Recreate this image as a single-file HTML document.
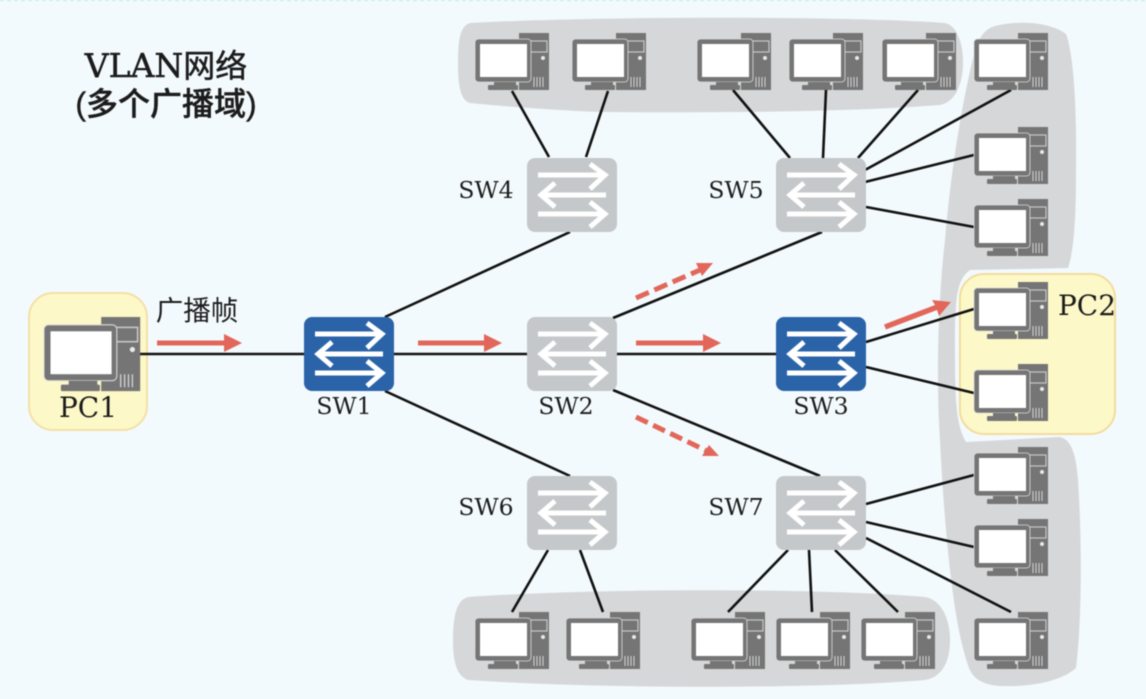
<!DOCTYPE html>
<html><head><meta charset="utf-8">
<style>
html,body{margin:0;padding:0;background:#f3fafd;width:1146px;height:699px;overflow:hidden}
svg{display:block;filter:blur(0.5px)}
.s{font-family:"DejaVu Serif","Liberation Serif",serif;fill:#1c1c1c}
.c{font-family:"Liberation Sans","Noto Sans CJK SC",sans-serif;fill:#1c1c1c}
</style></head><body>
<svg width="1146" height="699" viewBox="0 0 1146 699" xmlns="http://www.w3.org/2000/svg">
<defs>
<g id="pc">
<path d="M44 0H74V57H44Z" fill="#757575"/>
<rect x="45" y="8" width="27" height="11" fill="none" stroke="#c8c8c8" stroke-width="1.2"/>
<circle cx="68" cy="25" r="2" fill="#e8e8e8"/>
<path d="M59 44v10M62 44v10M65 44v10M68 44v10" stroke="#d5d5d5" stroke-width="1"/>
<rect x="0" y="6" width="56" height="43" rx="3.5" fill="#757575" stroke="#dcdcdc" stroke-width="0.8"/>
<rect x="5" y="11" width="47" height="33" fill="#fff"/>
<rect x="19" y="49" width="22" height="4" fill="#757575"/>
<rect x="13" y="52" width="30" height="5" rx="1" fill="#757575"/>
</g>
<g id="arr" fill="none" stroke="#fff" stroke-width="5">
<path d="M11 17H77M63 6L78 17L63 31"/>
<path d="M79 37H15M28 25L14 37L28 49"/>
<path d="M11 56H77M63 44L78 56L63 69"/>
</g>
<g id="swg"><rect width="90" height="74" rx="8" fill="#c5c8ca"/><use href="#arr"/></g>
<g id="swb"><rect width="90" height="74" rx="8" fill="#2b63a8"/><use href="#arr"/></g>
</defs>
<rect width="1146" height="699" fill="#f3fafd"/>
<path d="M0 0.5H1146" stroke="#bfeaf0" stroke-width="1" stroke-dasharray="4 3"/>

<!-- gray groups -->
<path d="M470 23C600 16 850 16 945 23C958 26 963 45 963 62C963 85 955 102 940 105C850 112 720 113 600 112C550 110 500 106 470 103C460 100 458 85 458 62C458 40 460 26 470 23Z" fill="#d6d7d8"/>
<path d="M468 597C600 588 820 588 925 597C942 600 950 620 950 640C950 662 942 677 925 680C820 689 600 689 468 680C456 676 453 660 453 640C453 618 456 600 468 597Z" fill="#d6d7d8"/>
<path d="M995 26C1020 20 1050 22 1066 34C1072 50 1077 90 1076 170C1076 220 1074 250 1068 268L970 270C956 280 955 300 955 350C955 400 956 425 966 442L1060 437C1072 440 1076 455 1078 480C1082 540 1082 620 1076 668C1060 682 1030 687 1000 686C985 685 972 680 968 665C952 620 944 520 940 440C936 380 938 300 945 240C950 180 960 110 975 50C980 36 985 29 995 26Z" fill="#d6d7d8"/>

<!-- yellow boxes -->
<rect x="29" y="293" width="118" height="137" rx="24" fill="#fdf8c8" stroke="#f3e0a6" stroke-width="2"/>
<rect x="960" y="274" width="155" height="160" rx="24" fill="#fdf8c8" stroke="#f3dc9d" stroke-width="2"/>

<!-- connectors -->
<g stroke="#111" stroke-width="2.6" fill="none">
<path d="M140 354H304M394 354H527M617 354H776"/>
<path d="M385 317L570 232M385 391L570 476"/>
<path d="M613 318L822 232M613 390L820 476"/>
<path d="M512 91L549 157M608 91L586 157"/>
<path d="M733 90L790 158M826 90L823 158M918 90L858 158"/>
<path d="M865 170L1011 90M865 182L974 155M866 207L974 227"/>
<path d="M866 342L974 309M866 367L974 393"/>
<path d="M548 550L512 612M580 550L603 612"/>
<path d="M788 550L728 612M809 550L812 612M835 550L898 612"/>
<path d="M866 504L974 475M866 522L974 547M866 538L1011 612"/>
</g>

<!-- PCs -->
<use href="#pc" x="475" y="33"/><use href="#pc" x="572" y="33"/><use href="#pc" x="697" y="33"/>
<use href="#pc" x="789" y="33"/><use href="#pc" x="882" y="33"/><use href="#pc" x="974" y="33"/>
<use href="#pc" x="974" y="127"/><use href="#pc" x="974" y="199"/><use href="#pc" x="974" y="282"/>
<use href="#pc" x="974" y="364"/><use href="#pc" x="974" y="447"/><use href="#pc" x="974" y="519"/>
<use href="#pc" x="974" y="612"/>
<use href="#pc" x="475" y="612"/><use href="#pc" x="566" y="612"/><use href="#pc" x="691" y="612"/>
<use href="#pc" x="776" y="612"/><use href="#pc" x="861" y="612"/>
<use href="#pc" transform="translate(44 317) scale(1.3)"/>

<!-- switches -->
<use href="#swb" x="304" y="317"/><use href="#swg" x="527" y="317"/><use href="#swb" x="776" y="317"/>
<use href="#swg" x="527" y="158"/><use href="#swg" x="776" y="158"/>
<use href="#swg" x="527" y="476"/><use href="#swg" x="776" y="476"/>

<!-- red arrows -->
<g fill="#e2675a">
<path d="M157 340.500H224V334L242 343L224 352V345.500H157Z"/>
<path d="M418 340.500H484V334L502 343L484 352V345.500H418Z"/>
<path d="M636 340.500H703V334L721 343L703 352V345.500H636Z"/>
<path d="M884 324.500L935 305L932 300L951 302L939 316L937 310L886 329.500Z"/>
<path d="M696 263L713 263L702 276Z"/>
<path d="M709 445L719 456L702 456Z"/>
</g>
<g stroke="#e2675a" stroke-width="5" fill="none">
<path d="M636 298L700 270" stroke-dasharray="14 6"/>
<path d="M636 417L707 451" stroke-dasharray="13 6"/>
</g>

<!-- labels -->
<g class="s" font-size="23.500" text-anchor="middle">
<text x="344" y="414">SW1</text>
<text x="566" y="414">SW2</text>
<text x="821" y="414">SW3</text>
<text x="486" y="198">SW4</text>
<text x="736" y="198">SW5</text>
<text x="486" y="515">SW6</text>
<text x="736" y="515">SW7</text>
<text x="88" y="417" font-size="28">PC1</text>
<text x="1087" y="315" font-size="28">PC2</text>
</g>
<text class="c" x="197" y="320" font-size="27.500" text-anchor="middle">广播帧</text>
<text x="166" y="77" font-size="33" text-anchor="middle" font-family="'DejaVu Serif','Noto Sans CJK SC',serif" fill="#1c1c1c" stroke="#1c1c1c" stroke-width="0.5">VLAN<tspan font-family="'Noto Sans CJK SC',sans-serif" font-size="32">网络</tspan></text>
<text class="c" x="166" y="115" font-size="32" font-weight="500" text-anchor="middle" stroke="#1c1c1c" stroke-width="0.4">(多个广播域)</text>
</svg>
</body></html>
